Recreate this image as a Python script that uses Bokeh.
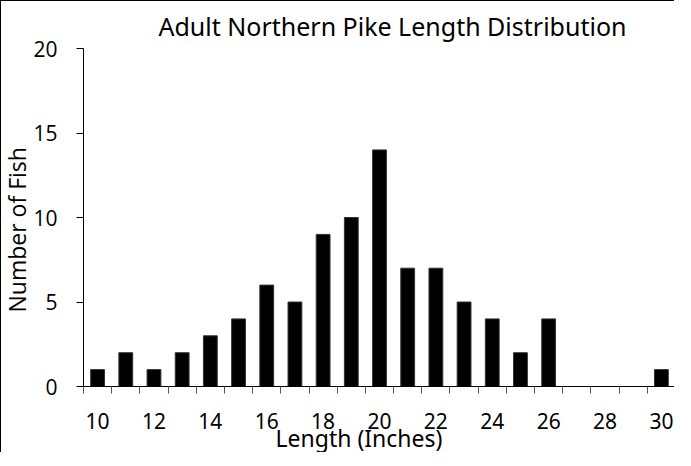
from bokeh.plotting import figure
from bokeh.models import FixedTicker, Range1d, Title, ColumnDataSource
from bokeh.embed import file_html
from bokeh.resources import INLINE

lengths = [10, 11, 12, 13, 14, 15, 16, 17, 18, 19, 20, 21, 22, 23, 24, 25, 26, 27, 28, 29, 30]
counts = [1, 2, 1, 2, 3, 4, 6, 5, 9, 10, 14, 7, 7, 5, 4, 2, 4, 0, 0, 0, 1]
x_tick_labels = [10, 12, 14, 16, 18, 20, 22, 24, 26, 28, 30]
y_ticks = [0, 5, 10, 15, 20]

src = ColumnDataSource(dict(x=lengths, top=counts))

p = figure(width=674, height=452, output_backend="svg", toolbar_location=None,
           x_range=Range1d(lengths[0] - 0.5, lengths[-1] + 0.5),
           y_range=Range1d(0, 20),
           min_border_left=79, min_border_right=0, min_border_top=47, min_border_bottom=67)
p.styles = {"border-left": "1px solid black", "border-top": "1px solid black"}
p.outline_line_color = None
p.grid.visible = False
p.background_fill_color = "white"
p.border_fill_color = "white"

p.vbar(x="x", top="top", width=0.49, bottom=0, source=src,
       fill_color="black", line_color="#333333", line_width=1)

# x axis: labels at even lengths, ticks between categories
xa = p.xaxis[0]
xa.ticker = FixedTicker(ticks=x_tick_labels,
                        minor_ticks=[v - 0.5 for v in lengths] + [lengths[-1] + 0.5])
xa.major_tick_out = 0
xa.major_tick_in = 0
xa.minor_tick_out = 7
xa.minor_tick_in = 0
xa.minor_tick_line_color = "#555555"
xa.axis_line_color = "black"
xa.major_label_text_font = "Noto Sans"
xa.major_label_text_font_size = "21px"
xa.major_label_text_color = "black"
xa.major_label_standoff = 19

ya = p.yaxis[0]
ya.ticker = FixedTicker(ticks=y_ticks, minor_ticks=[])
ya.major_tick_out = 7
ya.major_tick_in = 0
ya.major_tick_line_color = "black"
ya.axis_line_color = "black"
ya.major_label_text_font = "Open Sans"
ya.major_label_text_font_size = "21px"
ya.major_label_text_color = "black"
ya.major_label_standoff = 19

title = Title(text="Adult Northern Pike Length Distribution", align="left", offset=75,
              text_font="Noto Sans", text_font_size="25px", text_font_style="normal",
              text_color="black", standoff=11)
p.add_layout(title, "above")

xlabel = Title(text="Length (Inches)", align="left", offset=192, vertical_align="top",
               text_font="Noto Sans", text_font_size="23px", text_font_style="normal",
               text_color="black", standoff=-20)
p.add_layout(xlabel, "below")

ylabel = Title(text="Number of Fish", align="left", offset=74, vertical_align="bottom",
               text_font="Open Sans", text_font_size="23px", text_font_style="normal",
               text_color="black", standoff=-5)
p.add_layout(ylabel, "left")

open("out.html", "w").write(file_html(p, INLINE))
